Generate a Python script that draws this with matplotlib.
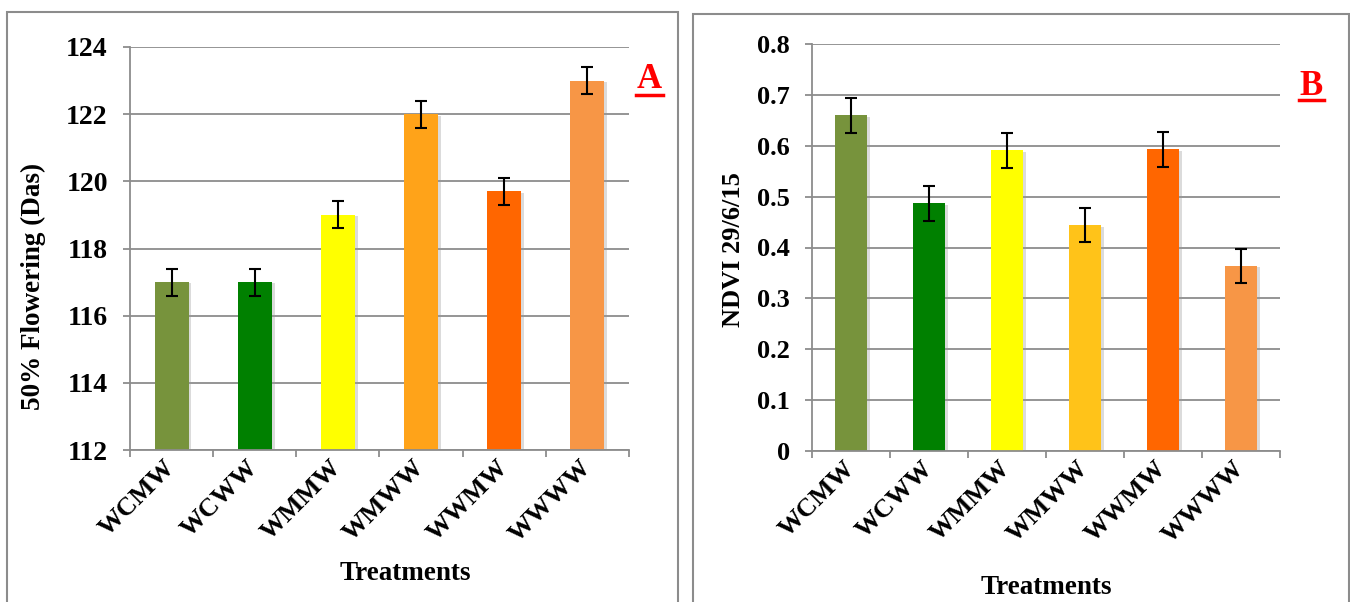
"""Two-panel bar chart: 50% flowering (A) and NDVI 29/6/15 (B) by treatment."""
import matplotlib
matplotlib.use("Agg")
import matplotlib.pyplot as plt
import matplotlib.patheffects as pe
from matplotlib.patches import Rectangle
from matplotlib.lines import Line2D
import numpy as np

W, H = 1350, 602

treatments = ["WCMW", "WCWW", "WMMW", "WMWW", "WWMW", "WWWW"]

flowering = [117.0, 117.0, 119.0, 122.0, 119.7, 123.0]
flowering_err = [0.4, 0.4, 0.4, 0.4, 0.4, 0.4]
flowering_ticks = [112, 114, 116, 118, 120, 122, 124]

ndvi = [0.66, 0.487, 0.591, 0.444, 0.593, 0.364]
ndvi_err = [0.034, 0.034, 0.034, 0.034, 0.034, 0.034]
ndvi_ticks = [0, 0.1, 0.2, 0.3, 0.4, 0.5, 0.6, 0.7, 0.8]
ndvi_ticklabels = ["0", "0.1", "0.2", "0.3", "0.4", "0.5", "0.6", "0.7", "0.8"]

colors_a = ["#77933C", "#008000", "#FFFF00", "#FFA319", "#FF6600", "#F79646"]
colors_b = ["#77933C", "#008000", "#FFFF00", "#FFC319", "#FF6600", "#F79646"]

GRID = "#8C8C8C"
FONT = "Liberation Serif"

plt.rcParams.update({
    "font.family": FONT,
    "font.weight": "bold",
})


def px_rect(x0, y0, x1, y1):
    """pixel box (top-left origin) -> figure fraction [l, b, w, h]"""
    return [x0 / W, 1 - y1 / H, (x1 - x0) / W, (y1 - y0) / H]


def draw_panel(ax, values, errs, colors, ylim, yticks, yticklabels, ytick_size):
    x = np.arange(len(treatments))
    ax.set_axisbelow(True)
    for yt in yticks:
        ax.axhline(yt, color=GRID, lw=1.3, zorder=0)
    bars = ax.bar(x, [v - ylim[0] for v in values], width=0.41,
                  bottom=ylim[0], color=colors, zorder=2)
    for b in bars:
        b.set_path_effects([
            pe.SimplePatchShadow(offset=(2, -1), shadow_rgbFace="#999999", alpha=0.35),
            pe.Normal(),
        ])
    ax.errorbar(x, values, yerr=errs, fmt="none", ecolor="black",
                elinewidth=1.5, capsize=4.5, capthick=1.5, zorder=3)
    ax.set_xlim(-0.5, len(treatments) - 0.5)
    ax.set_ylim(ylim)
    ax.set_yticks(yticks)
    ax.set_yticklabels(yticklabels, fontsize=ytick_size, fontweight="bold")
    ax.set_xticks(x)
    ax.set_xticklabels(treatments, fontsize=19, fontweight="bold",
                       rotation=45, ha="right", va="center",
                       rotation_mode="anchor")
    ax.set_xticks(np.arange(-0.5, len(treatments)), minor=True)
    ax.tick_params(axis="x", which="major", length=0, pad=10)
    ax.tick_params(axis="x", which="minor", length=5, width=1.3,
                   color=GRID, direction="out")
    ax.tick_params(axis="y", length=5, width=1.3, color=GRID,
                   direction="out", pad=11)
    for s in ("top", "right"):
        ax.spines[s].set_visible(False)
    for s in ("left", "bottom"):
        ax.spines[s].set_color(GRID)
        ax.spines[s].set_linewidth(1.3)


fig = plt.figure(figsize=(W / 100, H / 100), dpi=100)

# panel frames
fig.add_artist(Rectangle((7 / W, -0.05), (678 - 7) / W, 1.05 - 12 / H,
                         transform=fig.transFigure, fill=False,
                         edgecolor=GRID, lw=1.5))
fig.add_artist(Rectangle((693 / W, -0.05), (1349 - 693) / W, 1.05 - 14 / H,
                         transform=fig.transFigure, fill=False,
                         edgecolor=GRID, lw=1.5))

ax_a = fig.add_axes(px_rect(130, 47, 629, 450))
draw_panel(ax_a, flowering, flowering_err, colors_a, (112, 124),
           flowering_ticks, [str(t) for t in flowering_ticks], 20)

ax_b = fig.add_axes(px_rect(812, 44, 1280, 451))
draw_panel(ax_b, ndvi, ndvi_err, colors_b, (0, 0.8),
           ndvi_ticks, ndvi_ticklabels, 19)

# axis titles
fig.text(33 / W, 1 - 286 / H, "50% Flowering (Das)", rotation=90,
         ha="center", va="center", fontsize=19.5, fontweight="bold")
fig.text(405 / W, 1 - 574 / H, "Treatments", ha="center", va="center",
         fontsize=19.5, fontweight="bold")
fig.text(733 / W, 1 - 250 / H, "NDVI 29/6/15", rotation=90,
         ha="center", va="center", fontsize=19, fontweight="bold")
fig.text(1046 / W, 1 - 587 / H, "Treatments", ha="center", va="center",
         fontsize=19.5, fontweight="bold")

# panel letters (underlined)
fig.text(649 / W, 1 - 88 / H, "A", ha="center", va="baseline",
         fontsize=25, fontweight="bold", color="red")
fig.add_artist(Line2D([636 / W, 663 / W], [1 - 95 / H, 1 - 95 / H],
                      transform=fig.transFigure, color="red", lw=2.5))
fig.text(1311 / W, 1 - 95 / H, "B", ha="center", va="baseline",
         fontsize=25, fontweight="bold", color="red")
fig.add_artist(Line2D([1299 / W, 1324 / W], [1 - 100 / H, 1 - 100 / H],
                      transform=fig.transFigure, color="red", lw=2.5))

fig.savefig("out.png", dpi=100)
